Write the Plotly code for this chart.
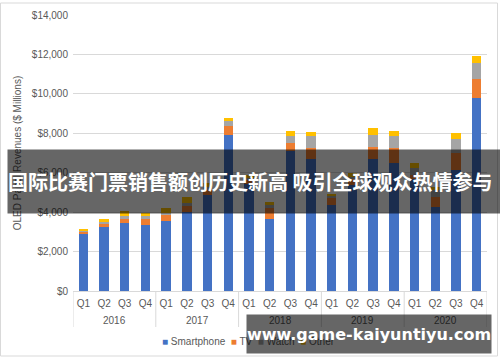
import plotly.graph_objects as go

year_names = ["2016", "2017", "2018", "2019", "2020"]
quarter_names = ["Q1", "Q2", "Q3", "Q4"]
years = [y for y in year_names for _ in quarter_names]
quarters = quarter_names * len(year_names)
categories = ["%s %s" % (y, q) for y, q in zip(years, quarters)]

smartphone = [2870, 3230, 3430, 3360, 3550, 4030, 4870, 7910, 5450, 3640,
              7080, 6680, 4360, 5400, 6680, 6500, 5700, 4270, 6130, 9800]
tv = [140, 170, 235, 270, 290, 280, 300, 460, 200, 570,
      450, 560, 400, 300, 640, 730, 180, 500, 850, 950]
watch = [80, 100, 135, 170, 135, 170, 100, 250, 90, 150,
         340, 620, 80, 100, 590, 640, 340, 350, 730, 800]
other = [70, 150, 250, 170, 235, 270, 190, 170, 140, 170,
         240, 220, 80, 170, 340, 240, 280, 170, 290, 370]

y_ticks = [0, 2000, 4000, 6000, 8000, 10000, 12000, 14000]
y_tick_labels = ["$0", "$2,000", "$4,000", "$6,000", "$8,000", "$10,000", "$12,000", "$14,000"]

series = [
    ("Smartphone", smartphone, "#4472C4"),
    ("TV", tv, "#ED7D31"),
    ("Watch", watch, "#A5A5A5"),
    ("Other", other, "#FFC000"),
]

fig = go.Figure()
for name, vals, color in series:
    fig.add_trace(go.Bar(x=categories, y=vals, name=name,
                         marker=dict(color=color, line=dict(width=0))))

font_main = "Liberation Sans, Arial, sans-serif"

fig.update_layout(
    width=500, height=362,
    barmode="stack", bargap=0.55,
    paper_bgcolor="white", plot_bgcolor="white",
    margin=dict(l=73, r=13, t=15, b=71, autoexpand=False),
    font=dict(family=font_main, size=10, color="#595959"),
    showlegend=False,
    xaxis=dict(type="category", categoryorder="array", categoryarray=categories,
               tickvals=categories, ticktext=quarters,
               range=[-0.5, len(categories) - 0.5],
               showgrid=False, showline=False, ticks="", tickangle=0,
               automargin=False, ticklabelstandoff=5,
               tickfont=dict(size=10, color="#595959")),
    yaxis=dict(range=[0, 14000], tickvals=y_ticks, ticktext=y_tick_labels,
               showgrid=True, gridcolor="#D9D9D9", gridwidth=1,
               zeroline=True, zerolinecolor="#D9D9D9", zerolinewidth=1,
               showline=False, ticks="", automargin=False, ticklabelstandoff=4,
               tickfont=dict(size=10, color="#595959"),
               title=dict(text="OLED Panel Revenues ($ Millions)",
                          font=dict(size=10, color="#595959"), standoff=8)),
)

def px_x(px):
    return (px - 73) / 414.0

def px_y(py):
    return (291 - py) / 276.0

# year group labels and dividers
for i, yname in enumerate(year_names):
    fig.add_annotation(xref="x", yref="paper", x=i * 4 + 1.5, y=px_y(320.5),
                       xanchor="center", yanchor="middle", showarrow=False,
                       text=yname, font=dict(family=font_main, size=10, color="#595959"))
for i in range(len(year_names) + 1):
    fig.add_shape(type="line", xref="x", yref="paper", x0=i * 4 - 0.5, x1=i * 4 - 0.5,
                  y0=px_y(291), y1=px_y(327), line=dict(color="#D9D9D9", width=1))

# chart border
fig.add_shape(type="rect", xref="paper", yref="paper",
              x0=px_x(0.5), x1=px_x(497.5), y0=px_y(356), y1=px_y(3),
              line=dict(color="#D9D9D9", width=1), fillcolor="rgba(0,0,0,0)", layer="below")

# legend (drawn as text so it sits under the watermark like the reference)
legend_parts = []
for name, _, color in series:
    legend_parts.append('<span style="color:%s">■</span> %s' % (color, name))
fig.add_annotation(xref="paper", yref="paper", x=px_x(248), y=px_y(341),
                   xanchor="center", yanchor="middle", showarrow=False,
                   text="&nbsp;&nbsp;".join(legend_parts),
                   font=dict(family=font_main, size=10, color="#595959"))

# banner
fig.add_annotation(xref="paper", yref="paper", x=px_x(7), y=px_y(181.5),
                   xanchor="left", yanchor="middle", showarrow=False,
                   text="<b>国际比赛门票销售额创历史新高 吸引全球观众热情参与</b>",
                   font=dict(family="Noto Sans CJK SC", size=20, color="white"),
                   bgcolor="rgba(0,0,0,0.6)", width=493, height=63, borderpad=0, align="left")

# watermark
fig.add_annotation(xref="paper", yref="paper", x=px_x(369), y=px_y(334),
                   xanchor="center", yanchor="middle", showarrow=False,
                   text="<b>www.game-kaiyuntiyu.com</b>",
                   font=dict(family="DejaVu Sans", size=16, color="white"),
                   bgcolor="rgba(0,0,0,0.6)", width=244, height=38, borderpad=0, align="center")

fig.write_html("out.html", config={"displayModeBar": False},
               post_script="document.body.style.margin='0px';document.body.style.overflow='hidden';")
